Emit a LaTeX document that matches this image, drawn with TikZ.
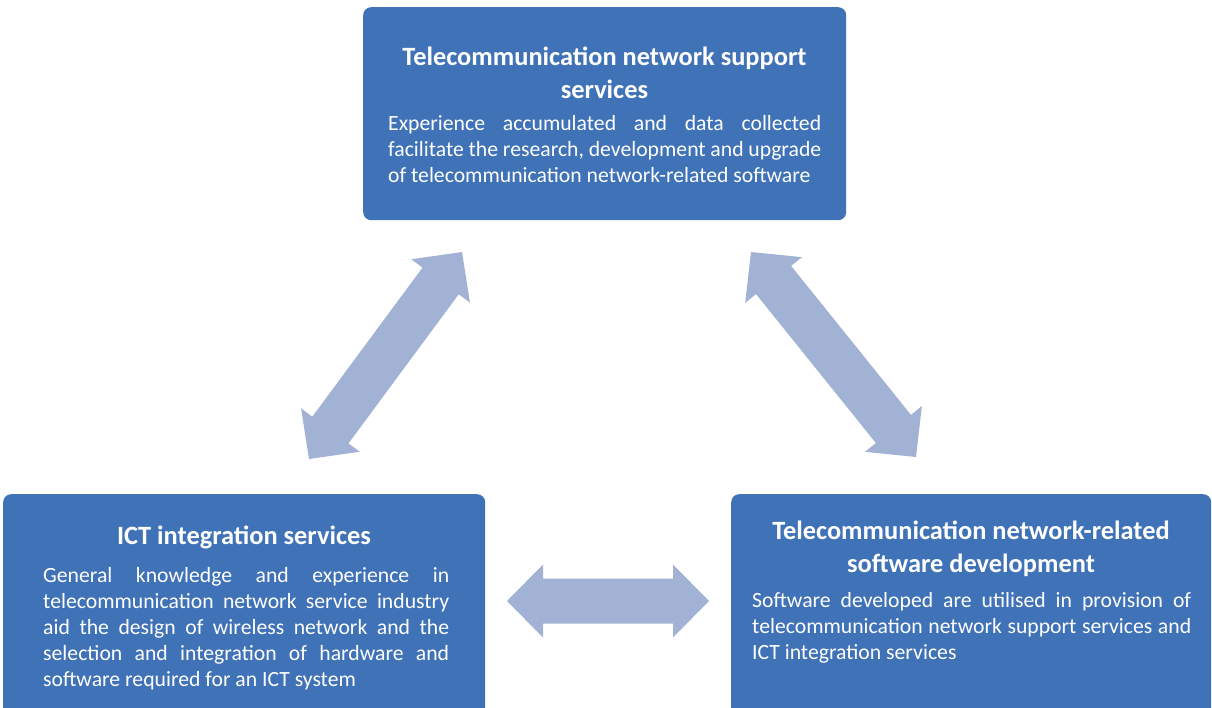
\documentclass[tikz,border=0pt]{standalone}
\usepackage{fontspec}
\setmainfont{Carlito}
\usetikzlibrary{calc}
\definecolor{boxblue}{RGB}{64,114,184}
\definecolor{arrowblue}{RGB}{162,178,212}
\newcommand\ttlpar[2]{\parbox[t]{#1}{\centering\bfseries\fontsize{26.4}{33}\selectfont #2}}
\newcommand\bodypar[2]{\parbox[t]{#1}{\hyphenpenalty=10000\fontsize{21.7}{26}\selectfont #2}}
\newcommand\dblarr[2]{%
  \path ($(#1)!36pt!(#2)$) coordinate (p1) ($(#2)!36pt!(#1)$) coordinate (p2);
  \fill[arrowfill] (#1) -- ($(p1)!36.5pt!90:(#2)$) -- ($(p1)!22.5pt!90:(#2)$)
    -- ($(p2)!22.5pt!-90:(#1)$) -- ($(p2)!36.5pt!-90:(#1)$) -- (#2)
    -- ($(p2)!36.5pt!90:(#1)$) -- ($(p2)!22.5pt!90:(#1)$)
    -- ($(p1)!22.5pt!-90:(#2)$) -- ($(p1)!36.5pt!-90:(#2)$) -- cycle;}
\begin{document}
\begin{tikzpicture}[x=1pt,y=-1pt,
  box/.style={fill=boxblue, rounded corners=8pt, inner sep=0pt, anchor=north west},
  arrowfill/.style={fill=arrowblue},
  ttl/.style={text=white, inner sep=0pt, anchor=base},
  bdy/.style={text=white, inner sep=0pt, anchor=base west}]
\useasboundingbox (0,0) rectangle (1212,708);
\clip (0,0) rectangle (1212,708);
% boxes
\node[box, minimum width=483pt, minimum height=213pt] (top) at (363,7) {};
\node[box, minimum width=482pt, minimum height=230pt] (left) at (3,494) {};
\node[box, minimum width=480pt, minimum height=230pt] (right) at (731,494) {};
% texts
\node[ttl] (toptitle) at (604.5,66) {\ttlpar{470pt}{Telecommunication network support\\services}};
\node[bdy] (topbody) at (388,131) {\bodypar{433pt}{Experience accumulated and data collected\linebreak facilitate the research, development and upgrade\linebreak of telecommunication network-related software}};
\node[ttl] (lefttitle) at (244,544) {\ttlpar{470pt}{ICT integration services}};
\node[bdy] (leftbody) at (43,582) {\bodypar{406pt}{General knowledge and experience in\linebreak telecommunication network service industry\linebreak aid the design of wireless network and the\linebreak selection and integration of hardware and\linebreak software required for an ICT system}};
\node[ttl] (righttitle) at (971,539) {\ttlpar{470pt}{Telecommunication network-related\\software development}};
\node[bdy] (rightbody) at (752,607) {\bodypar{439pt}{Software developed are utilised in provision of\linebreak telecommunication network support services and\linebreak ICT integration services}};
% arrows
\coordinate (la) at (309,459);
\coordinate (lb) at (462,252);
\coordinate (ra) at (751,252);
\coordinate (rb) at (916,457);
\coordinate (ha) at (507,601);
\coordinate (hb) at (709,601);
\dblarr{la}{lb}
\dblarr{ra}{rb}
\dblarr{ha}{hb}
\end{tikzpicture}
\end{document}
